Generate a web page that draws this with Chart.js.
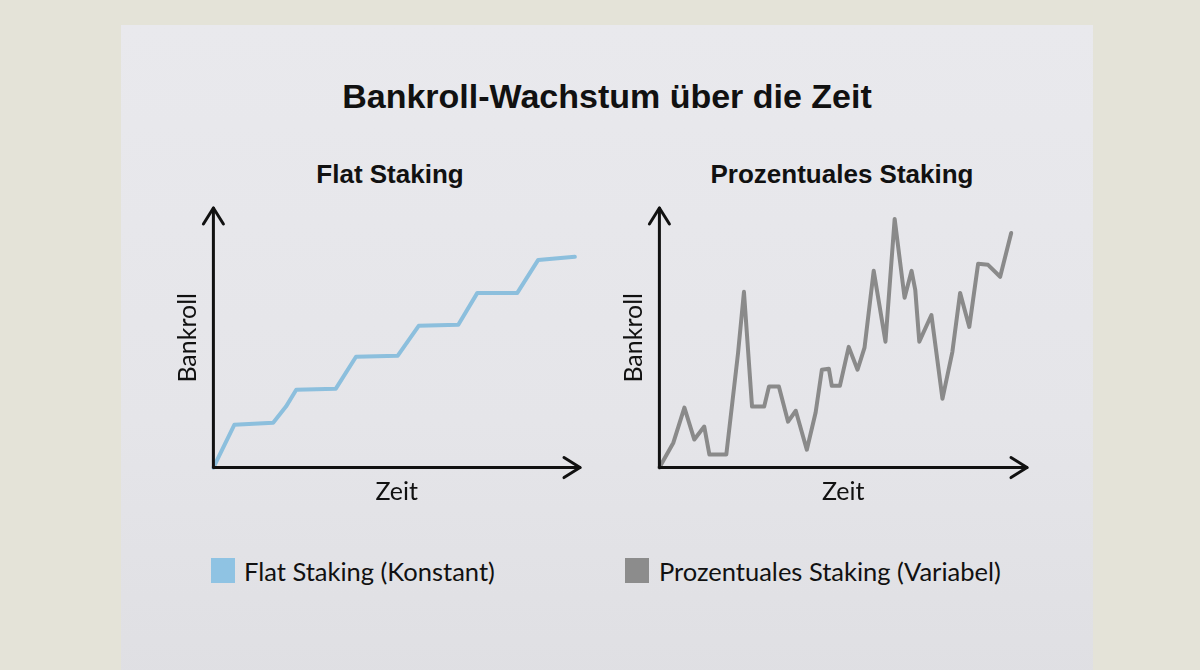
<!DOCTYPE html>
<html><head><meta charset="utf-8">
<script src="https://cdn.jsdelivr.net/npm/chart.js@4.4.1/dist/chart.umd.min.js"></script>
<style>
html,body{margin:0;padding:0;width:1200px;height:670px;overflow:hidden;background:#e4e3d8;}
#paper{position:absolute;left:121px;top:25px;width:972px;height:660px;background:linear-gradient(180deg,#e9e9ed 0%,#e5e5e9 60%,#dfdfe3 100%);}
.t{position:absolute;white-space:nowrap;color:#111;}
#title{left:0;width:1214px;text-align:center;top:79px;font:bold 34px/34px "Liberation Sans",Arial,sans-serif;}
.sub{font:bold 26px/26px "Liberation Sans",Arial,sans-serif;top:161px;transform:translateX(-50%);}
canvas{position:absolute;}
.sq{position:absolute;width:24px;height:25px;top:558px;}
.lg{font:25.5px/30px Lato,sans-serif;top:556px;}
</style></head>
<body>
<div id="paper"></div>
<div id="title" class="t">Bankroll-Wachstum über die Zeit</div>
<div class="t sub" style="left:390px">Flat Staking</div>
<div class="t sub" style="left:842px">Prozentuales Staking</div>
<canvas id="c1" width="480" height="340" style="left:150px;top:190px"></canvas>
<canvas id="c2" width="480" height="340" style="left:596px;top:190px"></canvas>
<div class="sq" style="left:211px;background:#8fc3e3"></div>
<div class="t lg" style="left:244px">Flat Staking (Konstant)</div>
<div class="sq" style="left:625px;background:#8c8c8c"></div>
<div class="t lg" style="left:659px">Prozentuales Staking (Variabel)</div>
<script>
// Flat staking series (time, bankroll) in axis units 0..100
const flatTime     = [0, 5.7, 16.3, 19.8, 22.6, 33.4, 38.9, 50.3, 56.0, 66.8, 72.0, 82.9, 88.6, 98.6];
const flatBankroll = [0, 16.5, 17.3, 23.5, 30.0, 30.4, 42.7, 43.1, 54.6, 55.0, 67.3, 67.3, 80.0, 81.2];
// Percentage staking series
const pctTime     = [0, 3.8, 6.8, 9.5, 12.2, 13.6, 18.2, 21.4, 23.0, 25.2, 28.5, 29.8, 32.5, 35.0, 37.1, 40.1, 42.5, 44.2, 46.1, 46.9, 49.1, 51.5, 53.9, 55.8, 58.3, 61.5, 64.0, 66.7, 68.6, 69.6, 70.7, 74.0, 77.0, 79.7, 81.8, 84.3, 86.7, 89.4, 92.7, 95.7];
const pctBankroll = [0, 9.6, 23.1, 10.8, 15.8, 5.0, 5.0, 44.2, 67.7, 23.5, 23.5, 31.2, 31.2, 17.7, 21.9, 6.9, 21.2, 37.7, 38.1, 31.5, 31.5, 46.5, 37.7, 46.2, 75.8, 48.5, 95.8, 65.4, 75.8, 68.5, 48.5, 58.8, 26.5, 44.6, 67.3, 54.2, 78.5, 78.1, 73.5, 90.4];
const xLabel = 'Zeit';
const yLabel = 'Bankroll';

const arrowAxes = {
  id: 'arrowAxes',
  afterDraw(chart) {
    const {ctx, chartArea: a} = chart;
    ctx.save();
    ctx.strokeStyle = '#111';
    ctx.lineWidth = 3;
    ctx.lineCap = 'round';
    ctx.lineJoin = 'round';
    ctx.beginPath();
    ctx.moveTo(a.left, a.top); ctx.lineTo(a.left, a.bottom); ctx.lineTo(a.right, a.bottom);
    ctx.stroke();
    ctx.beginPath();
    ctx.moveTo(a.left - 10, a.top + 16); ctx.lineTo(a.left, a.top); ctx.lineTo(a.left + 10, a.top + 16);
    ctx.stroke();
    ctx.beginPath();
    ctx.moveTo(a.right - 16, a.bottom - 10); ctx.lineTo(a.right, a.bottom); ctx.lineTo(a.right - 16, a.bottom + 10);
    ctx.stroke();
    ctx.restore();
  }
};

function makeChart(id, xs, ys, color, label, padR) {
  const pts = xs.map((x, i) => ({x, y: ys[i]}));
  const titleFont = {family: 'Lato', size: 25};
  return new Chart(document.getElementById(id), {
    type: 'line',
    data: {datasets: [{label, data: pts, borderColor: color, borderWidth: 4, pointRadius: 0, tension: 0, clip: false, borderJoinStyle: 'round', borderCapStyle: 'round'}]},
    options: {
      responsive: false, animation: false, events: [],
      layout: {padding: {left: 23.4, right: padR, top: 18, bottom: 23.4}},
      plugins: {legend: {display: false}, tooltip: {enabled: false}, title: {display: false}},
      scales: {
        x: {type: 'linear', min: 0, max: 100, grid: {display: false}, border: {display: false}, ticks: {display: false},
            title: {display: true, text: xLabel, color: '#111', font: titleFont, padding: {top: 1, bottom: 0}}},
        y: {type: 'linear', min: 0, max: 100, grid: {display: false}, border: {display: false}, ticks: {display: false},
            title: {display: true, text: yLabel, color: '#111', font: titleFont, padding: {top: 0, bottom: 2}}}
      }
    },
    plugins: [arrowAxes]
  });
}
makeChart('c1', flatTime, flatBankroll, '#8cbfdd', 'Flat Staking (Konstant)', 50);
makeChart('c2', pctTime, pctBankroll, '#8a8a8a', 'Prozentuales Staking (Variabel)', 49);
</script>
</body></html>
